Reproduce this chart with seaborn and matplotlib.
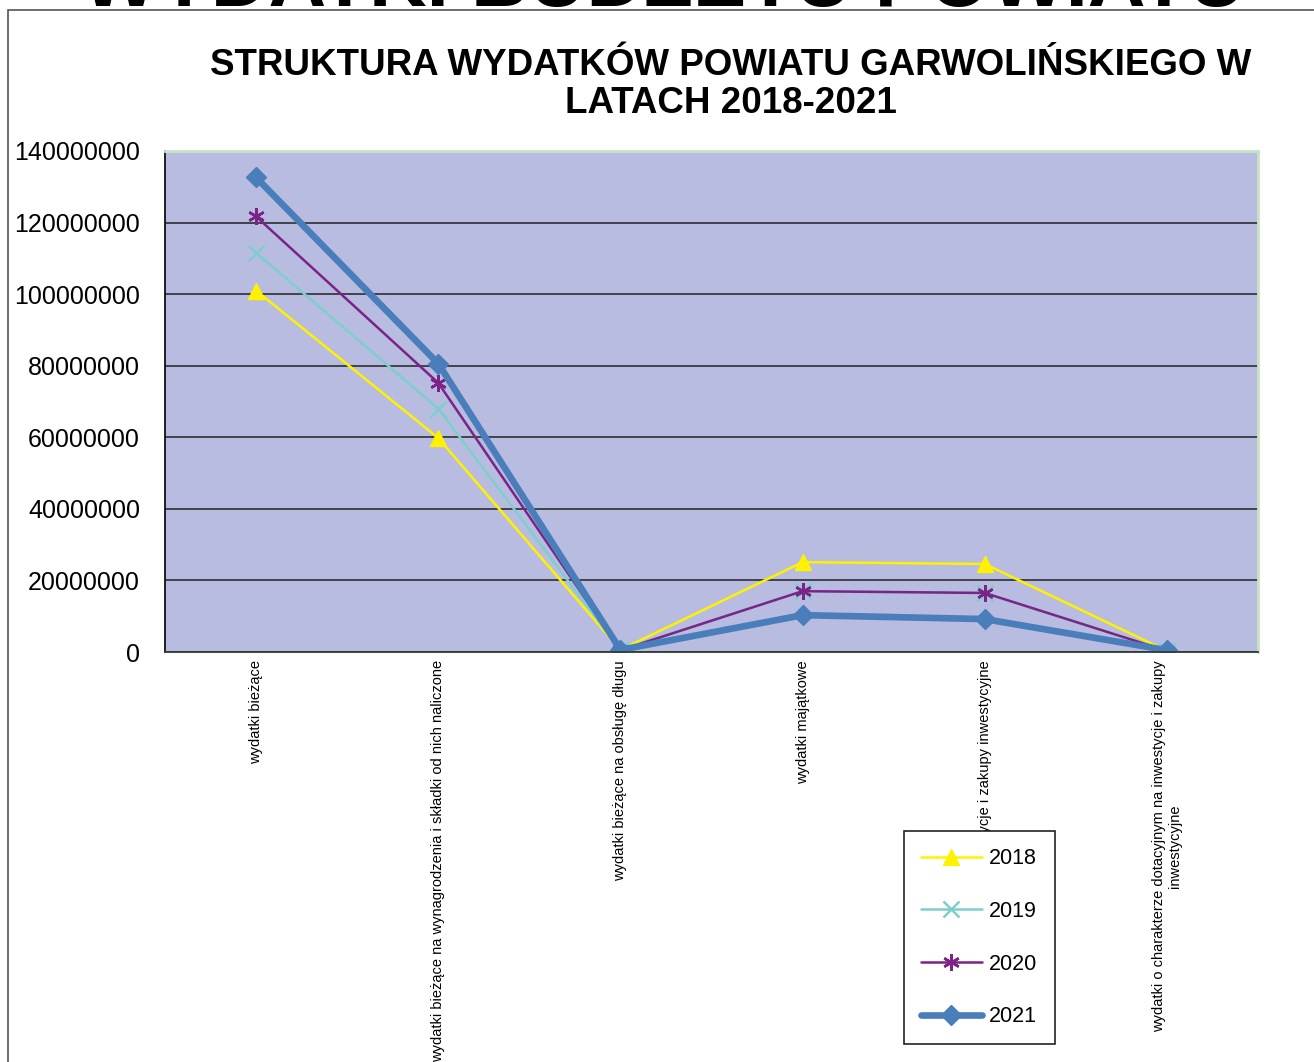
import numpy as np
import pandas as pd
import seaborn as sns
import matplotlib.pyplot as plt
from matplotlib.patches import Rectangle

# Data
categories = [
    'wydatki bieżące',
    'wydatki bieżące na wynagrodzenia i składki od nich naliczone',
    'wydatki bieżące na obsługę długu',
    'wydatki majątkowe',
    'wydatki na inwestycje i zakupy inwestycyjne',
    'wydatki o charakterze dotacyjnym na inwestycje i zakupy\ninwestycyjne',
]
years = ['2018', '2019', '2020', '2021']
v2018 = [101.0e6, 59.8e6, 0.6e6, 25.1e6, 24.6e6, 0.3e6]
v2019 = [111.6e6, 68.0e6, 0.5e6, 17.0e6, 16.4e6, 0.3e6]
v2020 = [121.7e6, 75.2e6, 0.5e6, 17.0e6, 16.5e6, 0.3e6]
v2021 = [132.6e6, 80.6e6, 0.6e6, 10.3e6, 9.2e6, 0.5e6]

colors = {'2018': '#FFF200', '2019': '#7ECFCC', '2020': '#7B2386', '2021': '#4A7EBB'}
markers = {'2018': '^', '2019': 'x', '2020': (6, 2, 0), '2021': 'D'}
widths = {'2018': 1.8, '2019': 1.8, '2020': 1.8, '2021': 4.8}
msizes = {'2018': 11, '2019': 11, '2020': 12, '2021': 10}

df = pd.DataFrame({'kategoria': list(range(len(categories))) * 4,
                   'rok': np.repeat(years, len(categories)),
                   'wartosc': v2018 + v2019 + v2020 + v2021})

sns.set_style('white')
plt.rcParams['font.family'] = ['Liberation Sans', 'DejaVu Sans']
plt.rcParams['text.color'] = 'black'
plt.rcParams['xtick.color'] = 'black'
plt.rcParams['ytick.color'] = 'black'

fig = plt.figure(figsize=(13.14, 10.62), dpi=100)
ax = fig.add_axes([165 / 1314, 1 - 652 / 1062, (1258 - 165) / 1314, (652 - 151) / 1062])
ax.set_facecolor('#B8BCE0')

for y in years:
    sub = df[df['rok'] == y]
    sns.lineplot(data=sub, x='kategoria', y='wartosc', ax=ax, color=colors[y],
                 linewidth=widths[y], marker=markers[y], markersize=msizes[y],
                 markeredgecolor=colors[y], markerfacecolor=colors[y],
                 markeredgewidth=1.8 if y in ('2019', '2020') else 1, label=y)

ax.set_xlim(-0.5, len(categories) - 0.5)
ax.set_ylim(0, 140000000)
ax.set_yticks(np.arange(0, 140000001, 20000000))
ax.set_yticklabels([str(int(t)) for t in np.arange(0, 140000001, 20000000)], fontsize=18)
ax.yaxis.grid(True, color='#222222', linewidth=1.1)
ax.set_axisbelow(True)

ax.set_xticks(range(len(categories)))
ax.set_xticklabels(categories, rotation=90, fontsize=10.5, va='top', ha='center',
                   multialignment='center')
ax.set_xticks(np.arange(0.5, len(categories), 1), minor=True)
ax.tick_params(axis='x', which='major', length=0, pad=6)
ax.tick_params(axis='x', which='minor', length=4, direction='out', color='#222222', width=1.2)
ax.tick_params(axis='y', which='major', length=4, direction='out', color='#222222', width=1.2, pad=14)
ax.set_xlabel('')
ax.set_ylabel('')

for side in ['top', 'right']:
    ax.spines[side].set_color('#C6E4C0')
    ax.spines[side].set_linewidth(2)
ax.spines['left'].set_color('#111111')
ax.spines['bottom'].set_color('#2F3F2F')
for side in ['left', 'bottom']:
    ax.spines[side].set_linewidth(1.3)

leg = ax.legend(loc='upper left', bbox_to_anchor=(904 / 1314, 1 - 831 / 1062),
                bbox_transform=fig.transFigure, fontsize=15.5, frameon=True,
                fancybox=False, edgecolor='#222222', framealpha=1,
                handlelength=2.8, labelspacing=1.47, borderpad=0.8,
                handletextpad=0.35, borderaxespad=0)
leg.get_frame().set_linewidth(1.2)

fig.text(0.556, 1 - 84.5 / 1062, 'STRUKTURA WYDATKÓW POWIATU GARWOLIŃSKIEGO W\nLATACH 2018-2021',
         ha='center', va='center', fontsize=26.5, fontweight='bold', linespacing=1.12)

# huge heading cut off at the top of the picture
fig.text(0.505, 1 - 6 / 1062, 'WYDATKI BUDŻETU POWIATU', ha='center', va='baseline',
         fontsize=57.5, fontweight='bold')

fig.patches.append(Rectangle((8 / 1314, -0.01), 1.1, 1 - 10 / 1062 + 0.01,
                             transform=fig.transFigure, fill=False,
                             edgecolor='#555555', linewidth=1.2))

fig.savefig('out.png', dpi=100)
